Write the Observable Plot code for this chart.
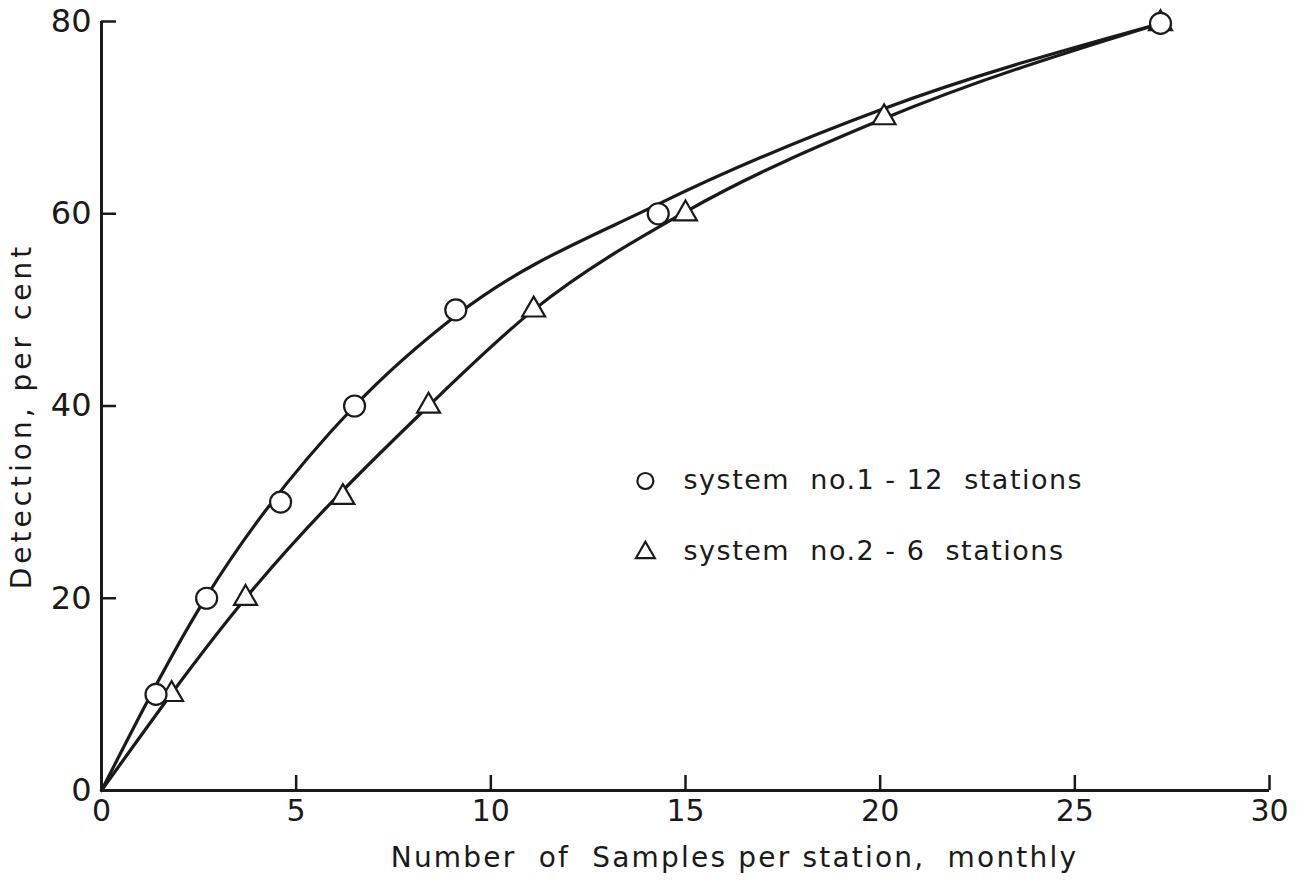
<!DOCTYPE html>
<html>
<head>
<meta charset="utf-8">
<script src="https://cdn.jsdelivr.net/npm/d3@7"></script>
<script src="https://cdn.jsdelivr.net/npm/@observablehq/plot@0.6"></script>
<style>
  html, body { margin: 0; padding: 0; background: #fff; }
  #chart svg { display: block; }
</style>
</head>
<body>
<div id="chart"></div>
<script>
// Observed points
const sys1X = [1.4, 2.7, 4.6, 6.5, 9.1, 14.3, 27.2];
const sys1Y = [10, 20, 30, 40, 50, 60, 79.8];
const sys2X = [1.8, 3.7, 6.2, 8.4, 11.1, 15.0, 20.1, 27.2];
const sys2Y = [10, 20, 30.5, 40, 50, 60, 70, 79.8];

// Hand-drawn fitted curves
const curve1X = [0, 2.7, 6.5, 9.1, 14.3, 20, 27.2];
const curve1Y = [0, 20.2, 40, 49.4, 61, 70.8, 79.8];
const curve2X = [0, 3.7, 8.4, 11.1, 15.0, 20.1, 27.2];
const curve2Y = [0, 20, 40, 50, 60.2, 69.9, 79.8];

const xTicks = [0, 5, 10, 15, 20, 25, 30];
const yTicks = [0, 20, 40, 60, 80];
const legendLabels = ["system  no.1 - 12  stations", "system  no.2 - 6  stations"];
const xTitle = "Number  of  Samples per station,  monthly";
const yTitle = "Detection, per cent";

const pts1 = sys1X.map((x, i) => ({x, y: sys1Y[i]}));
const pts2 = sys2X.map((x, i) => ({x, y: sys2Y[i]}));
const c1 = curve1X.map((x, i) => ({x, y: curve1Y[i]}));
const c2 = curve2X.map((x, i) => ({x, y: curve2Y[i]}));

const ink = "#1a1a1a";
const font = "DejaVu Sans, sans-serif";

const chart = Plot.plot({
  width: 1297,
  height: 880,
  marginLeft: 101,
  marginRight: 28,
  marginTop: 21,
  marginBottom: 90,
  style: {fontFamily: font, background: "#fff", color: ink},
  x: {domain: [0, 30]},
  y: {domain: [0, 80]},
  marks: [
    // axis tick labels
    Plot.axisX({ticks: xTicks, tickSize: 0, tickPadding: 9, fontSize: 30, label: null, stroke: "none", fill: ink}),
    Plot.axisY({ticks: yTicks, tickSize: 0, tickPadding: 10, fontSize: 32, label: null, stroke: "none", fill: ink}),
    // inward ticks
    Plot.axisX({ticks: xTicks.filter(d => d > 0), tickSize: -15, text: null, label: null, stroke: ink, strokeWidth: 2.5}),
    Plot.axisY({ticks: yTicks.filter(d => d > 0), tickSize: -15, text: null, label: null, stroke: ink, strokeWidth: 2.5}),
    // axis lines
    Plot.ruleX([0], {stroke: ink, strokeWidth: 3}),
    Plot.ruleY([0], {stroke: ink, strokeWidth: 3}),
    // curves
    Plot.line(c1, {x: "x", y: "y", curve: "monotone-x", stroke: ink, strokeWidth: 3.2}),
    Plot.line(c2, {x: "x", y: "y", curve: "monotone-x", stroke: ink, strokeWidth: 3.2}),
    // points
    Plot.dot(pts2, {x: "x", y: "y", symbol: "triangle", r: 8.5, fill: "#fff", stroke: ink, strokeWidth: 2.2}),
    Plot.dot(pts1, {x: "x", y: "y", symbol: "circle", r: 10.5, fill: "#fff", stroke: ink, strokeWidth: 2.2}),
    // legend
    Plot.dot([legendLabels[0]], {x: () => 13.97, y: () => 32.2, symbol: "circle", r: 8, fill: "#fff", stroke: ink, strokeWidth: 2.2}),
    Plot.dot([legendLabels[1]], {x: () => 13.97, y: () => 24.75, symbol: "triangle", r: 7, fill: "#fff", stroke: ink, strokeWidth: 2.2}),
    Plot.text(legendLabels, {x: () => 14.95, y: (d, i) => 32.3 - i * 7.45, text: d => d, textAnchor: "start", fontSize: 27, fill: ink}),
    // titles
    Plot.text([xTitle], {frameAnchor: "bottom", textAnchor: "middle", dx: 49, dy: 76, text: d => d, fontSize: 28, fill: ink}),
    Plot.text([yTitle], {frameAnchor: "left", textAnchor: "middle", dx: -79, dy: 10, rotate: -90, text: d => d, fontSize: 28, fill: ink})
  ]
});
const spacing = new Map([[legendLabels[0], 1.5], [legendLabels[1], 1.5], [xTitle, 2.2], [yTitle, 4]]);
d3.select(chart).selectAll("text").each(function() {
  const s = spacing.get(this.textContent);
  if (s != null) this.setAttribute("letter-spacing", s);
});
document.getElementById("chart").appendChild(chart);
</script>
</body>
</html>
